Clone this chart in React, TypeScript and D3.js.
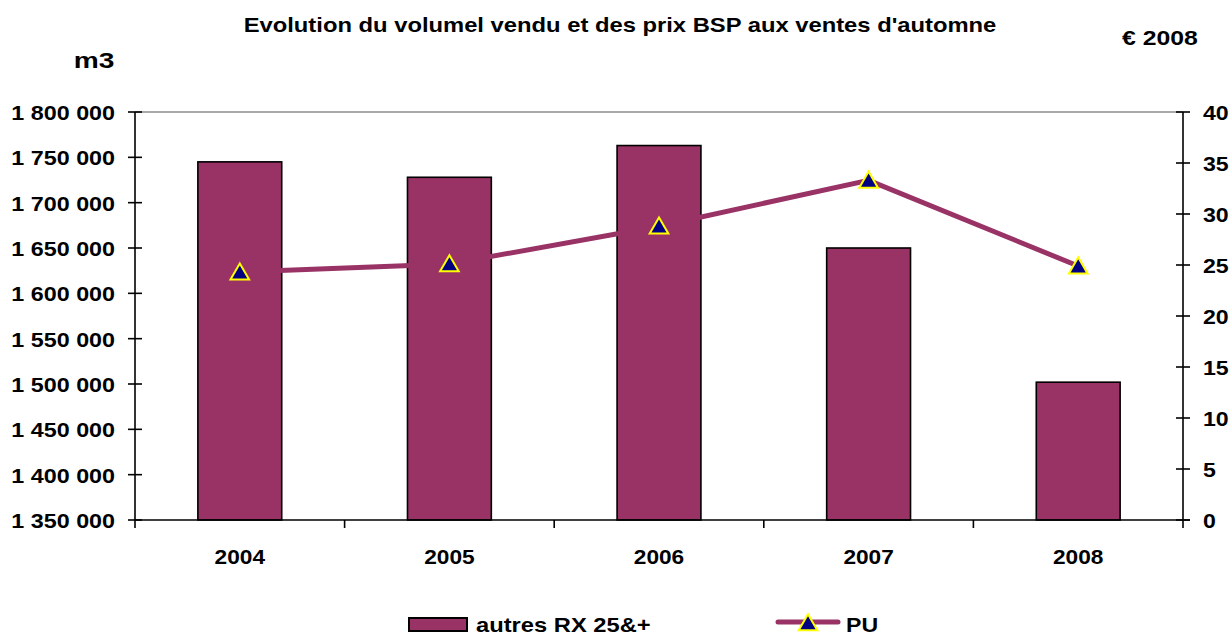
import * as React from 'react';
import * as d3 from 'd3';

// chart values
const years = ['2004', '2005', '2006', '2007', '2008'];
const volumes = [1745000, 1728000, 1763000, 1650000, 1502000];
const prices = [24.3, 25.1, 28.8, 33.3, 24.9];
const volumeTicks = [1350000, 1400000, 1450000, 1500000, 1550000, 1600000, 1650000, 1700000, 1750000, 1800000];
const priceTicks = [0, 5, 10, 15, 20, 25, 30, 35, 40];

const WIDTH = 1229;
const HEIGHT = 634;
const BAR_COLOR = '#993366';
const FONT = '"Liberation Sans", Arial, sans-serif';

const margin = { top: 112, right: 1229 - 1183, bottom: 634 - 520, left: 135 };

function fmtVolume(v: number) {
  return d3.format(',')(v).replace(/,/g, ' ');
}

// Excel-ish text: a bit wider than plain Arial bold, so stretch it horizontally
function addText(
  g: any,
  x: number,
  y: number,
  str: string,
  size: number,
  anchor: string,
  sx: number
) {
  g.append('text')
    .attr('transform', `translate(${x},${y}) scale(${sx},1)`)
    .attr('text-anchor', anchor)
    .attr('font-size', size)
    .text(str);
}

export default function App() {
  const ref = React.useRef<SVGSVGElement>(null);

  React.useEffect(() => {
    document.body.style.margin = '0';
    const svg = d3.select(ref.current);
    svg.selectAll('*').remove();

    const x = d3
      .scaleBand<string>()
      .domain(years)
      .range([margin.left, WIDTH - margin.right])
      .padding(0);
    const yL = d3.scaleLinear().domain([1350000, 1800000]).range([HEIGHT - margin.bottom, margin.top]);
    const yR = d3.scaleLinear().domain([0, 40]).range([HEIGHT - margin.bottom, margin.top]);

    const x0 = margin.left;
    const x1 = WIDTH - margin.right;
    const y0 = HEIGHT - margin.bottom;
    const y1 = margin.top;

    const g = svg.append('g').attr('font-family', FONT).attr('font-weight', 'bold');

    // top border of plot area
    g.append('line')
      .attr('x1', x0).attr('x2', x1).attr('y1', y1).attr('y2', y1)
      .attr('stroke', '#8c8c8c').attr('stroke-width', 1.5);

    // bars
    const barW = x.bandwidth() * 0.4;
    g.selectAll('rect.bar')
      .data(years)
      .enter()
      .append('rect')
      .attr('class', 'bar')
      .attr('x', (d) => (x(d) ?? 0) + (x.bandwidth() - barW) / 2)
      .attr('y', (_d, i) => yL(volumes[i]))
      .attr('width', barW)
      .attr('height', (_d, i) => y0 - yL(volumes[i]))
      .attr('fill', BAR_COLOR)
      .attr('stroke', '#000')
      .attr('stroke-width', 1.6);

    // axes lines
    g.append('line').attr('x1', x0).attr('x2', x0).attr('y1', y1).attr('y2', y0 + 8).attr('stroke', '#000').attr('stroke-width', 1.6);
    g.append('line').attr('x1', x1).attr('x2', x1).attr('y1', y1).attr('y2', y0 + 8).attr('stroke', '#000').attr('stroke-width', 1.6);
    g.append('line').attr('x1', x0).attr('x2', x1 + 7).attr('y1', y0).attr('y2', y0).attr('stroke', '#000').attr('stroke-width', 1.6);

    // left ticks + labels
    volumeTicks.forEach((t) => {
      const yy = yL(t);
      g.append('line').attr('x1', x0 - 7).attr('x2', x0 + 7).attr('y1', yy).attr('y2', yy).attr('stroke', '#000').attr('stroke-width', 1.6);
      addText(g, 115, yy + 8, fmtVolume(t), 21, 'end', 1.11);
    });

    // right ticks + labels
    priceTicks.forEach((t) => {
      const yy = yR(t);
      g.append('line').attr('x1', x1 - 7).attr('x2', x1 + 7).attr('y1', yy).attr('y2', yy).attr('stroke', '#000').attr('stroke-width', 1.6);
      addText(g, 1203, yy + 8, String(t), 21, 'start', 1.1);
    });

    // category boundary ticks + labels
    years.forEach((yr, i) => {
      const bx = x(yr) ?? 0;
      if (i > 0) {
        g.append('line').attr('x1', bx).attr('x2', bx).attr('y1', y0).attr('y2', y0 + 8).attr('stroke', '#000').attr('stroke-width', 1.6);
      }
      addText(g, bx + x.bandwidth() / 2, 564, yr, 21, 'middle', 1.08);
    });

    // price line
    const line = d3
      .line<number>()
      .x((_d, i) => (x(years[i]) ?? 0) + x.bandwidth() / 2)
      .y((d) => yR(d));
    g.append('path')
      .datum(prices)
      .attr('d', line)
      .attr('fill', 'none')
      .attr('stroke', BAR_COLOR)
      .attr('stroke-width', 5);

    const tri = d3.symbol().type(d3.symbolTriangle).size(150);
    g.selectAll('path.marker')
      .data(prices)
      .enter()
      .append('path')
      .attr('class', 'marker')
      .attr('d', tri)
      .attr('transform', (d, i) => `translate(${(x(years[i]) ?? 0) + x.bandwidth() / 2},${yR(d) + 2})`)
      .attr('fill', '#000080')
      .attr('stroke', '#ffff00')
      .attr('stroke-width', 2);

    // titles
    addText(g, 620, 32, "Evolution du volumel vendu et des prix BSP aux ventes d'automne", 20.5, 'middle', 1.16);
    addText(g, 94, 68, 'm3', 22, 'middle', 1.28);
    addText(g, 1160, 45, '€ 2008', 21, 'middle', 1.18);

    // legend
    g.append('rect').attr('x', 409).attr('y', 618).attr('width', 58).attr('height', 13)
      .attr('fill', BAR_COLOR).attr('stroke', '#000').attr('stroke-width', 2);
    addText(g, 476, 632, 'autres RX 25&+', 21, 'start', 1.13);
    g.append('line').attr('x1', 778).attr('x2', 838).attr('y1', 622).attr('y2', 622)
      .attr('stroke', BAR_COLOR).attr('stroke-width', 5).attr('stroke-linecap', 'round');
    g.append('path').attr('d', tri).attr('transform', 'translate(808,625)')
      .attr('fill', '#000080').attr('stroke', '#ffff00').attr('stroke-width', 2);
    addText(g, 846, 632, 'PU', 21, 'start', 1.1);
  }, []);

  return <svg ref={ref} width={WIDTH} height={HEIGHT} style={{ display: 'block', background: '#fff' }} />;
}
